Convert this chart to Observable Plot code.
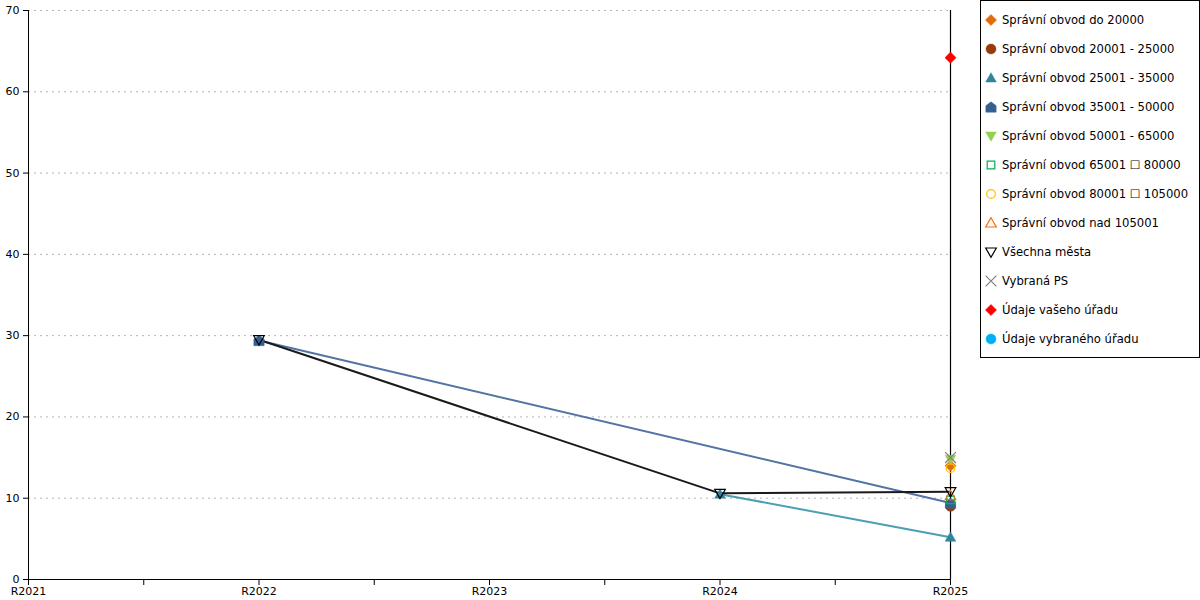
<!DOCTYPE html>
<html><head><meta charset="utf-8">
<script src="https://cdn.jsdelivr.net/npm/d3@7"></script>
<script src="https://cdn.jsdelivr.net/npm/@observablehq/plot@0.6"></script>
<style>
body{margin:0;background:#fff;font-family:"DejaVu Sans",Verdana,sans-serif;}
#wrap{position:relative;width:1200px;height:600px;overflow:hidden}
#chart{position:absolute;left:0;top:0}
#legend{position:absolute;left:980px;top:0;width:220px;height:358px;border:1px solid #000;background:#fff;box-sizing:border-box}
.item{position:absolute;left:0;height:16px;display:flex;align-items:center;font-size:11.6px;white-space:nowrap;color:#000}
.item svg{margin-left:3px;margin-right:4px}
</style></head><body><div id="wrap"><div id="chart"></div><div id="legend"></div></div>
<script>
// ---- data ----
const yearLabels = ["R2021", "R2022", "R2023", "R2024", "R2025"];
const yearValues = [2021, 2022, 2023, 2024, 2025];
const minorTicks = [2021.5, 2022.5, 2023.5, 2024.5];
const yTicks = [0, 10, 20, 30, 40, 50, 60, 70];
const seriesNames = [
  "Správní obvod do 20000",
  "Správní obvod 20001 - 25000",
  "Správní obvod 25001 - 35000",
  "Správní obvod 35001 - 50000",
  "Správní obvod 50001 - 65000",
  "Správní obvod 65001 \u2610 80000",
  "Správní obvod 80001 \u2610 105000",
  "Správní obvod nad 105001",
  "Všechna města",
  "Vybraná PS",
  "Údaje vašeho úřadu",
  "Údaje vybraného úřadu"
];
const obvodDo20000   = [null, null, null, null, 14.0];
const obvod20001     = [null, null, null, null, 9.0];
const obvod25001     = [null, null, null, 10.5, 5.2];
const obvod35001     = [null, 29.4, null, null, 9.4];
const obvod50001     = [null, null, null, null, 14.8];
const obvod65001     = [null, null, null, null, 9.8];
const obvod80001     = [null, null, null, null, 13.7];
const obvodNad105001 = [null, null, null, null, 10.3];
const vsechnaMesta   = [null, 29.5, null, 10.6, 10.8];
const vybranaPS      = [null, null, null, null, 15.0];
const vasehoUradu    = [null, null, null, null, 64.2];
const vybranehoUradu = [null, null, null, null, null];
const seriesValues = [obvodDo20000, obvod20001, obvod25001, obvod35001, obvod50001, obvod65001,
  obvod80001, obvodNad105001, vsechnaMesta, vybranaPS, vasehoUradu, vybranehoUradu];

// ---- styles ----
const seriesColors = ["#e36c0a", "#953c0a", "#31849b", "#365f91", "#92d050", "#00b050",
  "#ffc000", "#f96b0a", "#000000", "#808080", "#ff0000", "#00b0f0"];
const lineColors = ["#e36c0a", "#953c0a", "#4b9fb2", "#5274a4", "#92d050", "#00b050",
  "#ffc000", "#f96b0a", "#1a1a1a", "#808080", "#ff0000", "#00b0f0"];
const seriesFilled = [true, true, true, true, true, false, false, false, false, false, true, true];

const pentagon = {draw(ctx, size) {
  const s = Math.sqrt(size) * 0.58;
  ctx.moveTo(0, -s); ctx.lineTo(s, -s * 0.25); ctx.lineTo(s, s); ctx.lineTo(-s, s); ctx.lineTo(-s, -s * 0.25); ctx.closePath();
}};
const invTriangle = {draw(ctx, size) {
  const s = Math.sqrt(size) * 0.6;
  ctx.moveTo(-s, -s * 0.75); ctx.lineTo(s, -s * 0.75); ctx.lineTo(0, s * 1.0); ctx.closePath();
}};
const upTriangle = {draw(ctx, size) {
  const s = Math.sqrt(size) * 0.6;
  ctx.moveTo(0, -s); ctx.lineTo(s, s * 0.75); ctx.lineTo(-s, s * 0.75); ctx.closePath();
}};
const seriesSymbols = [d3.symbolDiamond2, d3.symbolCircle, upTriangle, pentagon, invTriangle, d3.symbolSquare,
  d3.symbolCircle, upTriangle, invTriangle, d3.symbolTimes, d3.symbolDiamond2, d3.symbolCircle];
const seriesR = [5, 5, 5, 5, 5, 4.3, 4.3, 5, 5, 5, 5, 5];

// ---- build ----
const marks = [
  Plot.gridY(yTicks.filter(d => d > 0), {stroke: "#b4b4b4", strokeOpacity: 1, strokeDasharray: "2,4"}),
  Plot.axisY(yTicks, {tickSize: 5, tickPadding: 4, fontSize: 11, label: null}),
  Plot.axisX(yearValues, {tickSize: 6, tickPadding: 2, fontSize: 11, label: null,
    tickFormat: d => yearLabels[yearValues.indexOf(d)]}),
  Plot.axisX(minorTicks, {tickSize: 6, tickFormat: () => "", label: null}),
  Plot.ruleX([2021], {stroke: "#000"}),
  Plot.ruleX([2025], {stroke: "#000", strokeWidth: 1.2}),
  Plot.ruleY([0], {stroke: "#000"})
];
const tables = seriesValues.map((vals, i) =>
  vals.map((v, j) => ({x: yearValues[j], y: v, s: seriesNames[i]})).filter(d => d.y != null));
tables.forEach((t, i) => {
  if (t.length > 1) marks.push(Plot.line(t, {x: "x", y: "y", stroke: lineColors[i], strokeWidth: 2}));
});
tables.forEach((t, i) => {
  if (!t.length) return;
  marks.push(Plot.dot(t, {x: "x", y: "y", symbol: seriesSymbols[i], r: seriesR[i],
    fill: seriesFilled[i] ? seriesColors[i] : "none",
    stroke: seriesColors[i], strokeWidth: seriesFilled[i] ? 0.5 : 1.2}));
});

const chart = Plot.plot({
  width: 980, height: 600,
  marginLeft: 28, marginRight: 30, marginTop: 10, marginBottom: 21,
  style: {fontFamily: "'DejaVu Sans', Verdana, sans-serif", fontSize: "11px", color: "#000", background: "#fff"},
  x: {domain: [2021, 2025]},
  y: {domain: [0, 70]},
  marks
});
document.getElementById("chart").appendChild(chart);

// legend
const legend = d3.select("#legend");
seriesNames.forEach((name, i) => {
  const item = legend.append("div").attr("class", "item").style("top", (11 + i * 29) + "px");
  const svg = item.append("svg").attr("width", 14).attr("height", 14);
  svg.append("path")
    .attr("transform", "translate(7,7)")
    .attr("d", d3.symbol(seriesSymbols[i], Math.PI * seriesR[i] * seriesR[i])())
    .attr("fill", seriesFilled[i] ? seriesColors[i] : "none")
    .attr("stroke", seriesColors[i])
    .attr("stroke-width", seriesFilled[i] ? 0.5 : 1.2);
  item.append("span").text(name);
});
</script></body></html>
